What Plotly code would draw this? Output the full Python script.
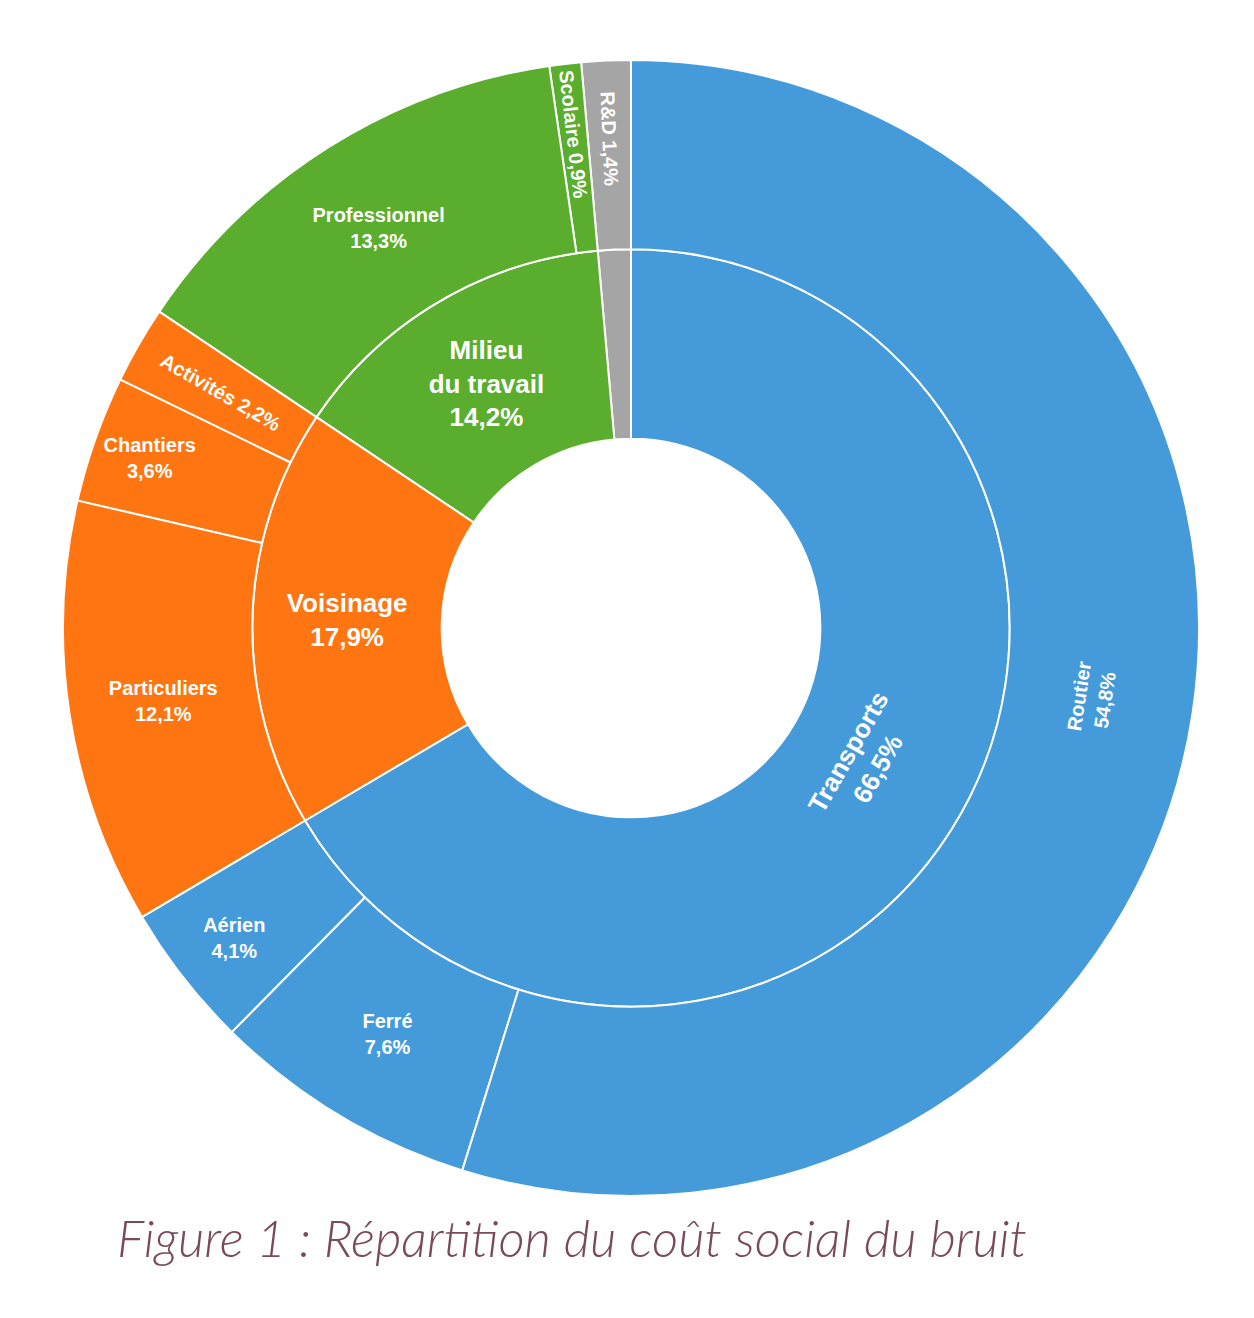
import plotly.graph_objects as go

# Répartition du coût social du bruit (en %)
groups = ["R&D", "Milieu du travail", "Voisinage", "Transports"]
group_labels = ["R&D", "Milieu<br>du travail", "Voisinage", "Transports"]
group_colors = ["#A5A5A5", "#5BAD2D", "#FF7512", "#459BDA"]

sub_labels = ["R&D", "Scolaire", "Professionnel",
              "Activités", "Chantiers", "Particuliers",
              "Aérien", "Ferré", "Routier"]
sub_parents = ["R&D", "Milieu du travail", "Milieu du travail",
               "Voisinage", "Voisinage", "Voisinage",
               "Transports", "Transports", "Transports"]
sub_values = [1.4, 0.9, 13.3, 2.2, 3.6, 12.1, 4.1, 7.6, 54.8]


def pct(v):
    return f"{v:.1f}%".replace(".", ",")


ids, labels, parents, values, texts, colors, sizes = [], [], [], [], [], [], []

# racine invisible (trou central)
ids.append("root"); labels.append(""); parents.append(""); values.append(0)
texts.append(""); colors.append("white"); sizes.append(10)

for g, gl, c in zip(groups, group_labels, group_colors):
    total = round(sum(v for v, p in zip(sub_values, sub_parents) if p == g), 1)
    ids.append(g); labels.append(g); parents.append("root"); values.append(0)
    texts.append("" if g == "R&D" else f"<b>{gl}<br>{pct(total)}</b>")
    colors.append(c); sizes.append(26)

for lab, par, val in zip(sub_labels, sub_parents, sub_values):
    ids.append(par + "/" + lab); labels.append(lab); parents.append(par)
    values.append(val)
    texts.append(f"<b>{lab} {pct(val)}</b>" if val < 2.5 else f"<b>{lab}<br>{pct(val)}</b>")
    colors.append(group_colors[groups.index(par)]); sizes.append(20)

# la page ajoute 8 px de marge autour du graphique
fig = go.Figure(go.Sunburst(
    ids=ids,
    labels=labels,
    parents=parents,
    values=values,
    branchvalues="remainder",
    text=texts,
    textinfo="text",
    sort=False,
    rotation=90,
    insidetextorientation="auto",
    leaf=dict(opacity=1),
    marker=dict(colors=colors, line=dict(color="white", width=2)),
    textfont=dict(family="Liberation Sans, Arial", size=sizes, color="white"),
    hoverinfo="skip",
    domain=dict(x=[55 / 1254, 1191 / 1254], y=[130 / 1318, 1266 / 1318]),
))

fig.add_annotation(
    x=107 / 1254, y=89 / 1318, xref="paper", yref="paper",
    xanchor="left", yanchor="middle", showarrow=False,
    text="Figure 1 : Répartition du coût social du bruit",
    font=dict(family="Lato", size=51, color="#7A4A5B", style="italic", weight=300),
)

fig.update_layout(
    width=1254, height=1318,
    margin=dict(l=0, r=0, t=0, b=0),
    paper_bgcolor="white",
    showlegend=False,
)

fig.write_html("out.html")
